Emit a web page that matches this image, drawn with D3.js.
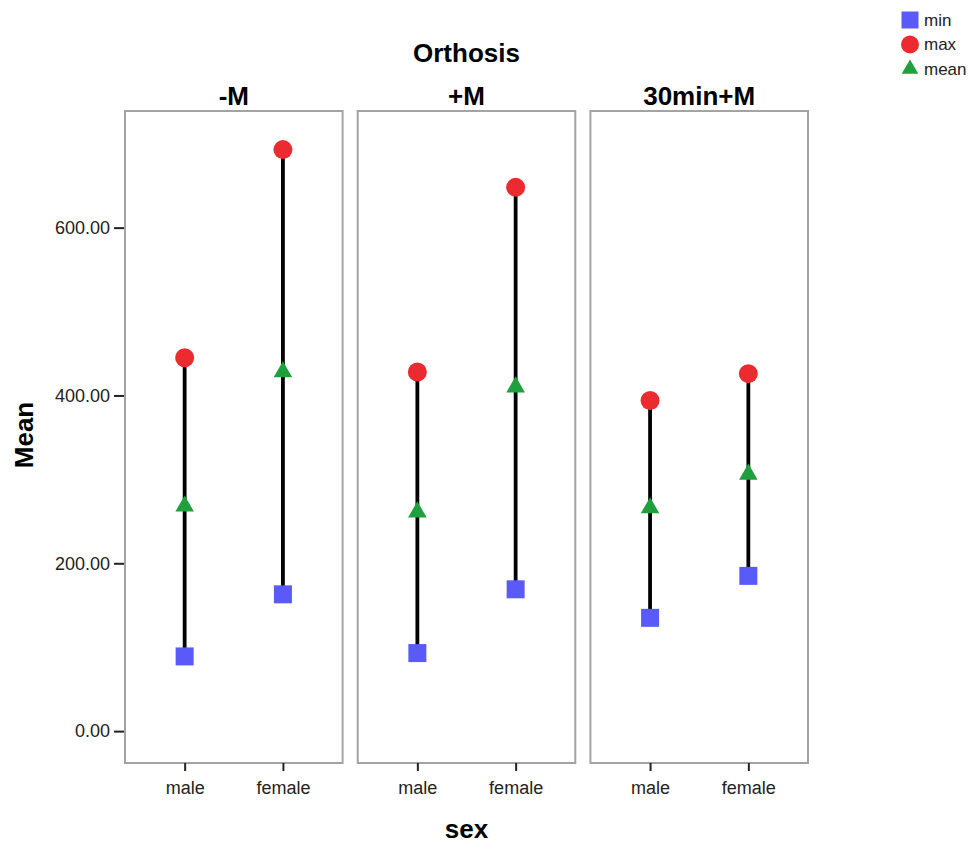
<!DOCTYPE html>
<html>
<head>
<meta charset="utf-8">
<script src="https://cdn.jsdelivr.net/npm/d3@7"></script>
<style>
  html, body { margin: 0; padding: 0; background: #fff; }
  svg { display: block; font-family: "Liberation Sans", Arial, sans-serif; }
</style>
</head>
<body>
<svg id="chart" width="971" height="845"></svg>
<script>
// ---- data ----
const conditions = ["-M", "+M", "30min+M"];
const sexes = ["male", "female"];
// values indexed [condition][sex]
const minValues  = [[89, 163], [93, 169], [135, 185]];
const maxValues  = [[445, 693], [428, 648], [394, 426]];
const meanValues = [[268, 428], [261, 410], [266, 306]];
const yTicks = [0, 200, 400, 600];
const legendItems = ["min", "max", "mean"];

const colors = { min: "#5a5af8", max: "#ec2b30", mean: "#1fa03c" };

const svg = d3.select("#chart");

const plotTop = 111, plotBottom = 763;
const y = d3.scaleLinear().domain([-38, 739]).range([plotBottom, plotTop]);

const fx = d3.scaleBand().domain(conditions).range([125, 808]).paddingInner(0.065);
const x = d3.scalePoint().domain(sexes).range([0, fx.bandwidth()]).padding(0.607);

const titleSize = 26, tickSize = 18;

// overall title
svg.append("text")
  .attr("x", (125 + 808) / 2).attr("y", 62)
  .attr("text-anchor", "middle")
  .attr("font-size", titleSize).attr("font-weight", "bold")
  .text("Orthosis");

// y axis
const yAxis = d3.axisLeft(y).tickValues(yTicks).tickFormat(d3.format(".2f")).tickSize(11).tickPadding(4);
const yg = svg.append("g").attr("transform", `translate(${fx(conditions[0])},0)`).call(yAxis);
yg.select(".domain").remove();
yg.selectAll(".tick line").attr("stroke", "#222").attr("stroke-width", 2);
yg.selectAll(".tick text").attr("font-size", tickSize).attr("fill", "#222")
  .attr("font-family", "'Liberation Sans', Arial, sans-serif");

// y title
svg.append("text")
  .attr("transform", `translate(33,435) rotate(-90)`)
  .attr("text-anchor", "middle")
  .attr("font-size", titleSize).attr("font-weight", "bold")
  .text("Mean");

// x title
svg.append("text")
  .attr("x", (125 + 808) / 2).attr("y", 838)
  .attr("text-anchor", "middle")
  .attr("font-size", titleSize).attr("font-weight", "bold")
  .text("sex");

const sym = {
  min: d3.symbol().type(d3.symbolSquare).size(18 * 18),
  max: d3.symbol().type(d3.symbolCircle).size(Math.PI * 9.5 * 9.5),
  mean: d3.symbol().type(d3.symbolTriangle).size(150)
};

conditions.forEach((c, ci) => {
  const g = svg.append("g").attr("transform", `translate(${fx(c)},0)`);
  // panel border
  g.append("rect")
    .attr("x", 0).attr("y", plotTop)
    .attr("width", fx.bandwidth()).attr("height", plotBottom - plotTop)
    .attr("fill", "none").attr("stroke", "#a3a3a3").attr("stroke-width", 2);
  // panel title
  g.append("text")
    .attr("x", fx.bandwidth() / 2).attr("y", 105)
    .attr("text-anchor", "middle")
    .attr("font-size", titleSize).attr("font-weight", "bold")
    .text(c);
  // x axis
  const xAxis = d3.axisBottom(x).tickSize(8).tickPadding(10);
  const xg = g.append("g").attr("transform", `translate(0,${plotBottom})`).call(xAxis);
  xg.select(".domain").remove();
  xg.selectAll(".tick line").attr("stroke", "#222").attr("stroke-width", 2);
  xg.selectAll(".tick text").attr("font-size", tickSize).attr("fill", "#222")
    .attr("font-family", "'Liberation Sans', Arial, sans-serif");

  sexes.forEach((s, si) => {
    const cx = x(s);
    g.append("line")
      .attr("x1", cx).attr("x2", cx)
      .attr("y1", y(minValues[ci][si])).attr("y2", y(maxValues[ci][si]))
      .attr("stroke", "#000").attr("stroke-width", 3.8);
    g.append("path").attr("d", sym.min())
      .attr("transform", `translate(${cx},${y(minValues[ci][si])})`)
      .attr("fill", colors.min);
    g.append("path").attr("d", sym.max())
      .attr("transform", `translate(${cx},${y(maxValues[ci][si])})`)
      .attr("fill", colors.max);
    g.append("path").attr("d", sym.mean())
      .attr("transform", `translate(${cx},${y(meanValues[ci][si])})`)
      .attr("fill", colors.mean);
  });
});

// legend
const lg = svg.append("g").attr("transform", "translate(910,0)");
const legendY = d3.scalePoint().domain(legendItems).range([20, 69]);
legendItems.forEach(k => {
  const yy = legendY(k);
  const s = k === "min" ? d3.symbol().type(d3.symbolSquare).size(17 * 17)
          : k === "max" ? d3.symbol().type(d3.symbolCircle).size(Math.PI * 9 * 9)
          : d3.symbol().type(d3.symbolTriangle).size(120);
  lg.append("path").attr("d", s()).attr("transform", `translate(0,${yy})`).attr("fill", colors[k]);
  lg.append("text").attr("x", 14).attr("y", yy).attr("dy", "0.35em")
    .attr("font-size", 17).attr("fill", "#222").text(k);
});
</script>
</body>
</html>
